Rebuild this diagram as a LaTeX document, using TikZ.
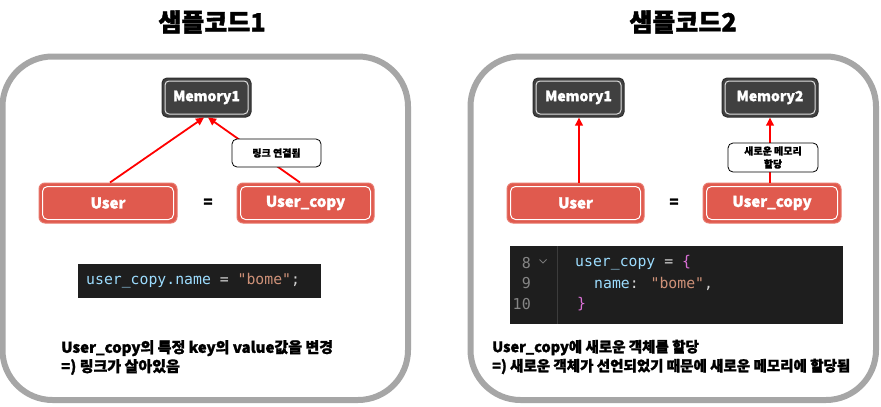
\documentclass[tikz,border=0pt]{standalone}
\usepackage{fontspec}
\setmainfont{Noto Sans CJK KR}[BoldFeatures={FakeBold=1.5}]
\newfontfamily\lblfont{Noto Sans CJK KR}[BoldFeatures={FakeBold=0.5}]
\newfontfamily\codefont{DejaVu Sans Mono}
\usetikzlibrary{arrows.meta}
\definecolor{framegray}{HTML}{A6A6A6}
\definecolor{memfill}{HTML}{404040}
\definecolor{memedge}{HTML}{2E2E2E}
\definecolor{userfill}{HTML}{E05A4E}
\definecolor{useredge}{HTML}{E8786D}
\definecolor{arrred}{HTML}{FF0000}
\definecolor{codebg}{HTML}{1E1E1E}
\definecolor{codeblue}{HTML}{9CDCFE}
\definecolor{codestr}{HTML}{CE9178}
\definecolor{codeplain}{HTML}{D4D4D4}
\definecolor{codenum}{HTML}{858585}
\definecolor{codebrace}{HTML}{DA70D6}
\definecolor{codesep}{HTML}{3C3C3C}
\tikzset{
  panel/.style={draw=framegray, line width=6pt, rounded corners=50pt},
  membox/.style={rectangle, rounded corners=5pt, fill=memfill, draw=memedge, line width=1pt,
    minimum height=39pt, inner sep=0pt, text=white,
    font=\bfseries\fontsize{14}{16}\selectfont,
    path picture={\draw[white!88!black, line width=1pt, rounded corners=4pt]
      ([xshift=3pt,yshift=-3pt]path picture bounding box.north west) rectangle
      ([xshift=-3pt,yshift=3pt]path picture bounding box.south east);}},
  userbox/.style={rectangle, rounded corners=6pt, fill=userfill, draw=useredge, line width=1pt,
    minimum height=40pt, inner sep=0pt, text=white,
    font=\bfseries\fontsize{15}{17}\selectfont,
    path picture={\draw[white, line width=1pt, rounded corners=5pt]
      ([xshift=3.5pt,yshift=-3.5pt]path picture bounding box.north west) rectangle
      ([xshift=-3.5pt,yshift=3.5pt]path picture bounding box.south east);}},
  labelbox/.style={rectangle, rounded corners=5pt, fill=white, draw=black, line width=0.8pt,
    inner sep=0pt, align=center, font=\lblfont\bfseries\fontsize{10}{13}\selectfont},
  arr/.style={draw=arrred, line width=1.8pt, -{Triangle[length=8pt,width=7.5pt]}},
  eqsign/.style={font=\bfseries\fontsize{15}{17}\selectfont},
  title/.style={font=\bfseries\fontsize{25}{28}\selectfont},
  note/.style={anchor=west, align=left, inner sep=0pt},
  code/.style={anchor=west, inner sep=0pt, font=\codefont\fontsize{14.8}{18}\selectfont},
  lnum/.style={anchor=east, inner sep=0pt, text=codenum, font=\codefont\fontsize{15}{18}\selectfont}
}
\begin{document}
\begin{tikzpicture}[x=1pt,y=-1pt]
\useasboundingbox[fill=white] (0,0) rectangle (881,407);

% titles
\node[title] (t1) at (212,22) {샘플코드1};
\node[title] (t2) at (683,22) {샘플코드2};

% panels
\draw[panel] (2.5,56.5) rectangle (408,400);
\draw[panel] (470.5,56.5) rectangle (876,400);

% ---------- left panel ----------
\node[membox, minimum width=89pt] (m1) at (206.5,97.5) {Memory1};
\node[userbox, minimum width=138pt] (u1) at (108,203) {User};
\node[userbox, minimum width=137pt] (uc1) at (305.5,203) {User\_copy};
\node[eqsign] (eq1) at (208,203) {=};
\draw[arr] ([xshift=2pt]u1.north) -- ([xshift=-2.5pt]m1.south);
\draw[arr] ([xshift=-5.5pt]uc1.north) -- ([xshift=1.5pt]m1.south);
\node[labelbox, minimum width=89pt, minimum height=28pt] (l1) at (276.5,153) {링크 연결됨};

\node[fill=codebg, minimum width=243pt, minimum height=34pt, inner sep=0pt] (c1) at (199.5,281) {};
\node[code] (c1t) at (86,281) {\color{codeblue}user\_copy.name \color{codeplain}= \color{codestr}"bome"\color{codeplain};};

\node[note, font=\bfseries\fontsize{15}{19}\selectfont] (n1) at (61,357.5) {User\_copy의 특정 key의 value값을 변경\\=) 링크가 살아있음};

% ---------- right panel ----------
\node[membox, minimum width=91pt] (m21) at (578.5,97.5) {Memory1};
\node[membox, minimum width=96pt] (m2) at (770,97.5) {Memory2};
\node[userbox, minimum width=137pt] (u2) at (575.5,203) {User};
\node[userbox, minimum width=138pt] (uc2) at (772,203) {User\_copy};
\node[eqsign] (eq2) at (674,203) {=};
\draw[arr] ([xshift=3.5pt]u2.north) -- ([xshift=0.5pt]m21.south);
\draw[arr] ([xshift=-2pt]uc2.north) -- (m2.south);
\node[labelbox, minimum width=90pt, minimum height=29pt] (l2) at (773,157.5) {새로운 메모리\\할당};

\node[fill=codebg, minimum width=333pt, minimum height=78pt, inner sep=0pt] (c2) at (676.5,285) {};
\coordinate (septop) at (557,246);
\coordinate (sepbot) at (557,324);
\draw[codesep, line width=1pt] (septop) -- (sepbot);
\node[lnum] (ln8) at (531,263) {8};
\node[lnum] (ln9) at (531,283.5) {9};
\node[lnum] (ln10) at (531,304) {10};
\draw[codesep!70!white, line width=0.8pt] (539.5,259.5) -- (543,263) -- (546.5,259.5);
\node[code] (cl8) at (575,263) {\color{codeblue}user\_copy \color{codeplain}= \color{codebrace}\{};
\node[code] (cl9) at (594,283.5) {\color{codeblue}name\color{codeplain}: \color{codestr}"bome"\color{codeplain},};
\node[code] (cl10) at (577,304) {\color{codebrace}\}};

\node[note, font=\bfseries\fontsize{14.5}{19}\selectfont] (n2) at (492,357) {User\_copy에 새로운 객체를 할당\\=) 새로운 객체가 선언되었기 때문에 새로운 메모리에 할당됨};
\end{tikzpicture}
\end{document}
